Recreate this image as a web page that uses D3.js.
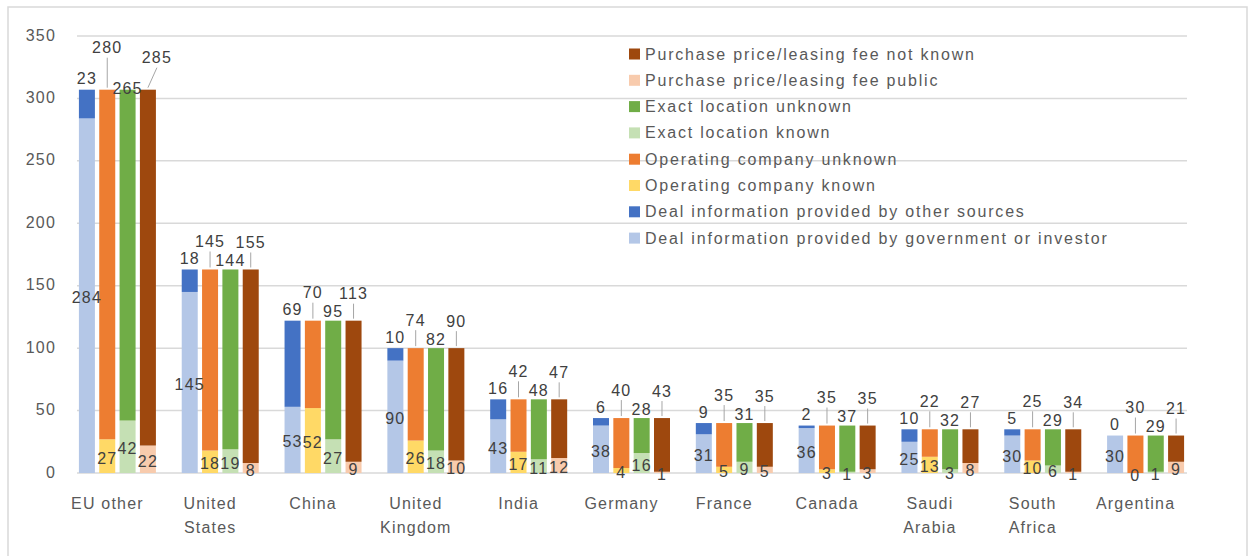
<!DOCTYPE html>
<html>
<head>
<meta charset="utf-8">
<script src="https://cdn.jsdelivr.net/npm/d3@7"></script>
<style>
  html, body { margin: 0; padding: 0; background: #fff; }
  svg { display: block; }
  text { font-family: "Liberation Sans", Arial, sans-serif; }
</style>
</head>
<body>
<svg id="chart" width="1248" height="556"></svg>
<script>
// ---------------- data ----------------
const categories = ["EU other", "United States", "China", "United Kingdom", "India", "Germany", "France", "Canada", "Saudi Arabia", "South Africa", "Argentina"];
const categoryLabels = [["EU other"], ["United", "States"], ["China"], ["United", "Kingdom"], ["India"], ["Germany"], ["France"], ["Canada"], ["Saudi", "Arabia"], ["South", "Africa"], ["Argentina"]];

const govInvestor  = [284, 145, 53, 90, 43, 38, 31, 36, 25, 30, 30];
const otherSources = [23, 18, 69, 10, 16, 6, 9, 2, 10, 5, 0];
const opKnown      = [27, 18, 52, 26, 17, 4, 5, 3, 13, 10, 0];
const opUnknown    = [280, 145, 70, 74, 42, 40, 35, 35, 22, 25, 30];
const locKnown     = [42, 19, 27, 18, 11, 16, 9, 1, 3, 6, 1];
const locUnknown   = [265, 144, 95, 82, 48, 28, 31, 37, 32, 29, 29];
const pricePublic  = [22, 8, 9, 10, 12, 1, 5, 3, 8, 1, 9];
const priceUnknown = [285, 155, 113, 90, 47, 43, 35, 35, 27, 34, 21];

const yTicks = [0, 50, 100, 150, 200, 250, 300, 350];

const seriesNames = {
  govInvestor: "Deal information provided by government or investor",
  otherSources: "Deal information provided by other sources",
  opKnown: "Operating company known",
  opUnknown: "Operating company unknown",
  locKnown: "Exact location known",
  locUnknown: "Exact location unknown",
  pricePublic: "Purchase price/leasing fee public",
  priceUnknown: "Purchase price/leasing fee not known"
};

// ---------------- styling ----------------
const colors = {
  govInvestor: "#B4C7E7",
  otherSources: "#4472C4",
  opKnown: "#FFD966",
  opUnknown: "#ED7D31",
  locKnown: "#C5E0B4",
  locUnknown: "#70AD47",
  pricePublic: "#F8CBAD",
  priceUnknown: "#9E480E"
};

// the four stacked columns per category: [bottom key, top key]
const bars = [
  { key: "source",   parts: [["govInvestor", govInvestor], ["otherSources", otherSources]] },
  { key: "operator", parts: [["opKnown", opKnown], ["opUnknown", opUnknown]] },
  { key: "location", parts: [["locKnown", locKnown], ["locUnknown", locUnknown]] },
  { key: "price",    parts: [["pricePublic", pricePublic], ["priceUnknown", priceUnknown]] }
];
const topLabelRaise = [11, 28, 9, 27];
const leader = [false, true, false, true];

const legendOrder = ["priceUnknown", "pricePublic", "locUnknown", "locKnown", "opUnknown", "opKnown", "otherSources", "govInvestor"];

const svg = d3.select("#chart");

// outer frame
svg.append("rect")
  .attr("x", 8).attr("y", 7).attr("width", 1239).attr("height", 560)
  .attr("fill", "none").attr("stroke", "#d9d9d9").attr("stroke-width", 1.5);

const plotLeft = 77, plotRight = 1187;
const y = d3.scaleLinear().domain([0, 350]).range([473, 36]);

const x = d3.scaleBand().domain(categories).range([56, 1187]).paddingInner(0).paddingOuter(0);
const groupShift = 10; // bars sit to the right of the tick centre
const xInner = d3.scaleBand().domain(bars.map(b => b.key)).range([-38.5, 38.5]).paddingInner(0.213).paddingOuter(0);

// gridlines
svg.append("g").selectAll("line").data(yTicks).join("line")
  .attr("x1", plotLeft).attr("x2", plotRight)
  .attr("y1", d => y(d)).attr("y2", d => y(d))
  .attr("stroke", "#d9d9d9").attr("stroke-width", 1.5);

// y tick labels
svg.append("g").selectAll("text").data(yTicks).join("text")
  .attr("x", 56).attr("y", d => y(d) - 1)
  .attr("text-anchor", "end").attr("dominant-baseline", "central")
  .attr("font-size", 16).attr("letter-spacing", 1.2).attr("fill", "#595959")
  .text(d => d);

// bars
const gBars = svg.append("g");
const gLabels = svg.append("g");
categories.forEach((cat, i) => {
  const cx = x(cat) + x.bandwidth() / 2 + groupShift;
  bars.forEach((b, j) => {
    const bx = cx + xInner(b.key);
    const bw = xInner.bandwidth();
    const [k0, arr0] = b.parts[0];
    const [k1, arr1] = b.parts[1];
    const v0 = arr0[i], v1 = arr1[i];
    gBars.append("rect")
      .attr("x", bx).attr("width", bw)
      .attr("y", y(v0)).attr("height", y(0) - y(v0))
      .attr("fill", colors[k0]);
    gBars.append("rect")
      .attr("x", bx).attr("width", bw)
      .attr("y", y(v0 + v1)).attr("height", y(v0) - y(v0 + v1))
      .attr("fill", colors[k1]);

    const bcx = bx + bw / 2;
    // bottom label (centre of segment)
    const by = Math.min(y(v0 / 2) + 2, y(0) + 2);
    gLabels.append("text")
      .attr("x", bcx).attr("y", by)
      .attr("text-anchor", "middle").attr("dominant-baseline", "central")
      .attr("font-size", 16).attr("letter-spacing", 1.2).attr("fill", "#404040")
      .text(v0);
    // top label above the column
    const top = y(v0 + v1);
    let raise = topLabelRaise[j];
    if (i === 0 && j === 1) raise = 42;
    if (i === 0 && j === 3) raise = 32;
    if (i === 0 && j === 2) raise = 1;
    const ty = top - raise;
    const lx = bcx + ((i === 0 && j === 3) ? 9 : 0);
    gLabels.append("text")
      .attr("x", lx).attr("y", ty)
      .attr("text-anchor", "middle").attr("dominant-baseline", "central")
      .attr("font-size", 16).attr("letter-spacing", 1.2).attr("fill", "#404040")
      .text(v1);
    if (leader[j]) {
      gLabels.append("line")
        .attr("x1", lx).attr("x2", bcx)
        .attr("y1", ty + 10).attr("y2", top - 2)
        .attr("stroke", "#a6a6a6").attr("stroke-width", 1);
    }
  });
  // category label
  const lines = categoryLabels[i];
  const t = svg.append("text")
    .attr("x", x(cat) + x.bandwidth() / 2)
    .attr("y", 503)
    .attr("text-anchor", "middle").attr("dominant-baseline", "central")
    .attr("font-size", 16).attr("letter-spacing", 1.2).attr("fill", "#595959");
  lines.forEach((ln, li) => {
    t.append("tspan").attr("x", x(cat) + x.bandwidth() / 2).attr("dy", li === 0 ? 0 : 24).text(ln);
  });
});

// legend
const legend = svg.append("g");
legendOrder.forEach((k, i) => {
  const ly = 54 + i * 26.3;
  legend.append("rect").attr("x", 629).attr("y", ly - 5.5).attr("width", 11).attr("height", 11).attr("fill", colors[k]);
  legend.append("text").attr("x", 645).attr("y", ly)
    .attr("dominant-baseline", "central")
    .attr("font-size", 16).attr("letter-spacing", 1.8).attr("fill", "#595959")
    .text(seriesNames[k]);
});
</script>
</body>
</html>
